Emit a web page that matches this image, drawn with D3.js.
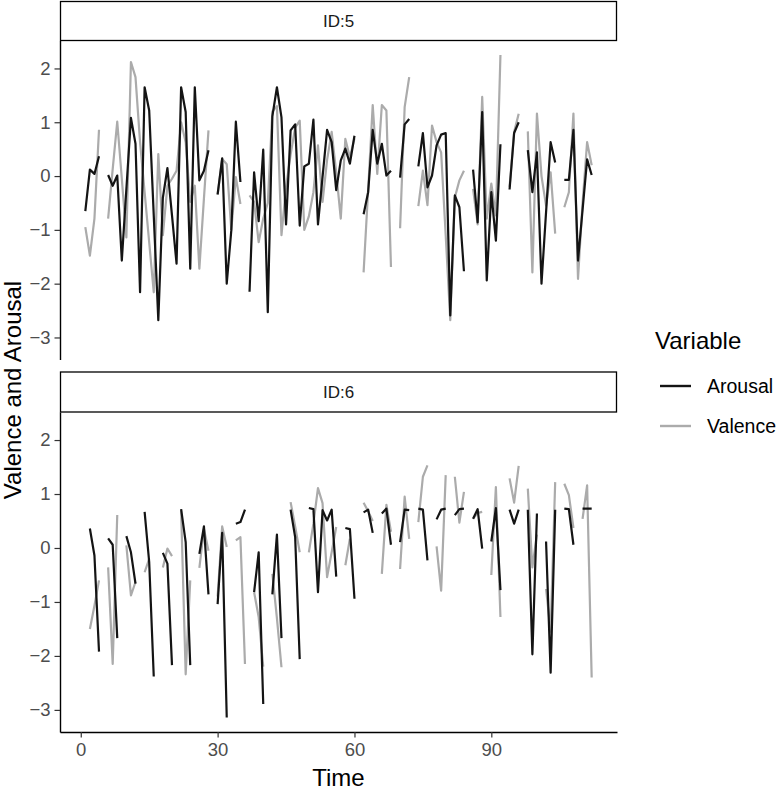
<!DOCTYPE html>
<html>
<head>
<meta charset="utf-8">
<script src="https://cdn.jsdelivr.net/npm/d3@7"></script>
<style>
  body { margin: 0; background: #fff; }
  text { font-family: "Liberation Sans", Arial, sans-serif; }
</style>
</head>
<body>
<svg id="chart" width="780" height="790"></svg>
<script>
// Time index of each observation (same for both IDs)
const time = [1,2,3,4,5,6,7,8,9,10,11,12,13,14,15,16,17,18,19,20,
  21,22,23,24,25,26,27,28,29,30,31,32,33,34,35,36,37,38,39,40,
  41,42,43,44,45,46,47,48,49,50,51,52,53,54,55,56,57,58,59,60,
  61,62,63,64,65,66,67,68,69,70,71,72,73,74,75,76,77,78,79,80,
  81,82,83,84,85,86,87,88,89,90,91,92,93,94,95,96,97,98,99,100,
  101,102,103,104,105,106,107,108,109,110,111,112];

// ID:5 (null = missing, line breaks there)
const arousal5 = [-0.65,0.12,0.04,0.37,null,0.02,-0.18,0.01,-1.57,-0.24,
  1.08,0.60,-2.16,1.65,1.22,-0.73,-2.68,-0.40,0.15,-0.73,
  -1.63,1.65,1.19,-1.72,1.65,-0.08,0.10,0.48,null,-0.34,
  0.33,-2.00,-1.01,1.01,-0.11,null,-2.15,0.07,-0.84,0.49,
  -2.53,1.11,1.65,1.09,-0.90,0.85,0.96,-0.92,0.18,0.23,
  1.05,-0.90,-0.02,0.86,0.63,-0.26,0.29,0.51,0.23,0.75,
  null,-0.71,-0.30,0.86,0.23,0.60,0.01,0.10,null,-0.03,
  0.96,1.06,null,0.18,0.80,-0.21,0.01,0.57,0.77,0.80,
  -2.59,-0.36,-0.58,-1.77,null,0.12,-0.86,1.19,-1.94,-0.30,
  -1.20,0.59,null,-0.25,0.80,1.00,null,0.48,-0.30,0.44,
  -2.00,-0.67,0.63,0.25,null,-0.07,-0.07,0.86,-1.57,-0.63,
  0.31,0.02];
const valence5 = [-0.95,-1.48,-0.79,0.86,null,-0.79,0.13,1.01,-0.05,-1.14,
  2.12,1.84,0.63,-0.30,-1.23,-2.16,0.41,-1.10,-0.18,-0.05,
  0.10,1.00,0.63,-0.48,-0.18,-1.72,-0.42,0.85,null,-0.35,
  0.32,0.22,-1.00,-0.02,-0.52,null,-0.36,-0.48,-1.23,-0.79,
  -0.50,1.20,1.30,-1.10,-0.20,0.40,0.90,1.03,-1.00,-0.75,
  -0.30,0.57,-0.48,0.30,0.82,0.07,-0.79,0.69,0.35,0.70,
  null,-1.79,-0.26,1.32,0.04,1.32,1.22,-1.69,null,-0.97,
  1.28,1.84,null,-0.56,0.10,-0.54,0.94,0.63,0.44,-1.10,
  -2.68,-0.40,-0.08,0.10,null,-0.24,-0.90,1.47,-0.79,-0.14,
  -0.73,2.25,null,-0.20,0.82,1.16,null,0.83,-1.79,1.16,
  0.00,-0.55,0.07,-1.07,null,-0.58,-0.30,1.16,-1.91,-0.50,
  0.63,0.20];

// ID:6
const arousal6 = [null,0.36,-0.14,-1.92,null,0.18,0.06,-1.67,null,0.22,
  -0.08,-0.66,null,0.67,-0.26,-2.38,null,-0.09,-0.29,-2.17,
  null,0.72,0.11,-2.17,null,-0.11,0.40,-0.86,null,-1.04,
  0.28,-3.14,null,0.45,0.48,0.71,null,-0.82,-0.08,-2.89,
  null,-0.86,0.25,-1.67,null,0.71,0.20,-2.06,null,0.74,
  0.72,-0.82,0.70,0.51,0.71,-0.53,null,0.37,0.35,-0.94,
  null,0.66,0.71,0.28,null,0.64,0.73,0.06,null,0.11,
  0.71,0.70,null,0.73,0.71,-0.23,null,0.53,0.71,0.73,
  null,0.61,0.72,0.73,null,0.54,0.72,-0.01,null,0.12,
  0.74,-0.78,null,0.71,0.45,0.71,null,0.71,-1.97,0.64,
  null,0.12,-2.31,0.71,null,0.73,0.72,0.06,null,0.73,
  0.73,0.73];
const valence6 = [null,-1.50,-1.07,-0.60,null,-0.36,-2.15,0.61,null,0.05,
  -0.88,-0.63,null,-0.45,-0.20,null,null,-0.36,-0.01,-0.15,
  null,0.70,-2.34,-0.60,null,-0.37,0.35,-0.05,null,-0.90,
  0.40,0.02,null,0.14,0.20,-2.15,null,-0.82,-1.28,-2.20,
  null,-0.48,-1.30,-2.21,null,0.85,0.40,-0.08,null,-0.08,
  0.45,1.11,0.83,-0.54,-0.08,0.39,null,-0.32,0.17,null,
  null,0.84,0.68,0.50,null,-0.48,0.80,0.30,null,-0.39,
  0.95,0.17,null,0.48,1.32,1.53,null,0.03,-0.79,1.35,
  null,1.32,0.47,1.04,null,0.54,0.65,0.67,null,-0.50,
  1.13,-1.28,null,1.29,0.84,1.52,null,1.10,-0.36,0.25,
  null,-0.76,-1.55,1.22,null,1.19,0.98,0.37,null,0.54,
  1.16,-2.40];

const facetLabels = ["ID:5", "ID:6"];
const seriesNames = ["Arousal", "Valence"];
const yTicks = [-3, -2, -1, 0, 1, 2];
const xTicks = [0, 30, 60, 90];

const colors = { Arousal: "#141414", Valence: "#ababab" };

const svg = d3.select("#chart");
const left = 60, right = 617;

const panels = [
  { label: facetLabels[0], series: { Arousal: arousal5, Valence: valence5 }, stripTop: 1.5, top: 40.5, bottom: 359.5 },
  { label: facetLabels[1], series: { Arousal: arousal6, Valence: valence6 }, stripTop: 372, top: 412, bottom: 732 }
];

// shared scales with ggplot style 5% expansion
let allVals = [].concat(arousal5, valence5, arousal6, valence6).filter(v => v != null);
let [ymin, ymax] = d3.extent(allVals);
let ypad = (ymax - ymin) * 0.05;
let [tmin, tmax] = d3.extent(time);
let xpad = (tmax - tmin) * 0.05;

let x = d3.scaleLinear().domain([tmin - xpad, tmax + xpad]).range([left, right]);

panels.forEach((p, i) => {
    let y = d3.scaleLinear().domain([ymin - ypad, ymax + ypad]).range([p.bottom, p.top]);
    let g = svg.append("g");

    // strip
    g.append("rect")
        .attr("x", left + 0.5).attr("y", p.stripTop)
        .attr("width", right - left - 1).attr("height", p.top - p.stripTop)
        .attr("fill", "#fff").attr("stroke", "#000").attr("stroke-width", 1.3);
    g.append("text")
        .attr("x", (left + right) / 2).attr("y", (p.stripTop + p.top) / 2)
        .attr("text-anchor", "middle").attr("dominant-baseline", "central")
        .attr("font-size", 17).attr("fill", "#1a1a1a")
        .text(p.label);

    // lines: valence under arousal
    ["Valence", "Arousal"].forEach(name => {
        let vals = p.series[name];
        let line = d3.line()
            .defined(d => d.v != null)
            .x(d => x(d.t))
            .y(d => y(d.v));
        g.append("path")
            .datum(time.map((t, k) => ({ t: t, v: vals[k] })))
            .attr("fill", "none")
            .attr("stroke", colors[name])
            .attr("stroke-width", 2.2)
            .attr("stroke-linejoin", "round")
            .attr("d", line);
    });

    // y axis
    let yAxis = g.append("g")
        .attr("transform", `translate(${left},0)`)
        .call(d3.axisLeft(y).tickValues(yTicks).tickFormat(d3.format("d"))
            .tickSize(5.5).tickPadding(4).tickSizeOuter(0));
    yAxis.select(".domain").attr("stroke", "#000").attr("stroke-width", 1.4);
    yAxis.selectAll(".tick line").attr("stroke", "#333").attr("stroke-width", 1.2);
    yAxis.selectAll(".tick text").attr("font-size", 18.5).attr("fill", "#4d4d4d")
        .attr("font-family", "Liberation Sans, Arial, sans-serif");

    // x axis only under the last panel
    if (i === panels.length - 1) {
        let xAxis = g.append("g")
            .attr("transform", `translate(0,${p.bottom})`)
            .call(d3.axisBottom(x).tickValues(xTicks).tickFormat(d3.format("d"))
                .tickSize(5.5).tickPadding(5).tickSizeOuter(0));
        xAxis.select(".domain").attr("stroke", "#000").attr("stroke-width", 1.4);
        xAxis.selectAll(".tick line").attr("stroke", "#333").attr("stroke-width", 1.2);
        xAxis.selectAll(".tick text").attr("font-size", 18.5).attr("fill", "#4d4d4d")
            .attr("font-family", "Liberation Sans, Arial, sans-serif");
    }
});

// axis titles
svg.append("text")
    .attr("x", (left + right) / 2).attr("y", 786)
    .attr("text-anchor", "middle").attr("font-size", 24).attr("fill", "#000")
    .text("Time");
svg.append("text")
    .attr("transform", "translate(21,390) rotate(-90)")
    .attr("text-anchor", "middle").attr("font-size", 24).attr("fill", "#000")
    .text("Valence and Arousal");

// legend
let legend = svg.append("g");
legend.append("text")
    .attr("x", 655).attr("y", 349)
    .attr("font-size", 24).attr("fill", "#000")
    .text("Variable");
seriesNames.forEach((name, k) => {
    let ly = 386 + k * 40;
    legend.append("line")
        .attr("x1", 660).attr("x2", 691).attr("y1", ly).attr("y2", ly)
        .attr("stroke", colors[name]).attr("stroke-width", 2.4);
    legend.append("text")
        .attr("x", 707).attr("y", ly)
        .attr("dominant-baseline", "central")
        .attr("font-size", 19.5).attr("fill", "#000")
        .text(name);
});
</script>
</body>
</html>
